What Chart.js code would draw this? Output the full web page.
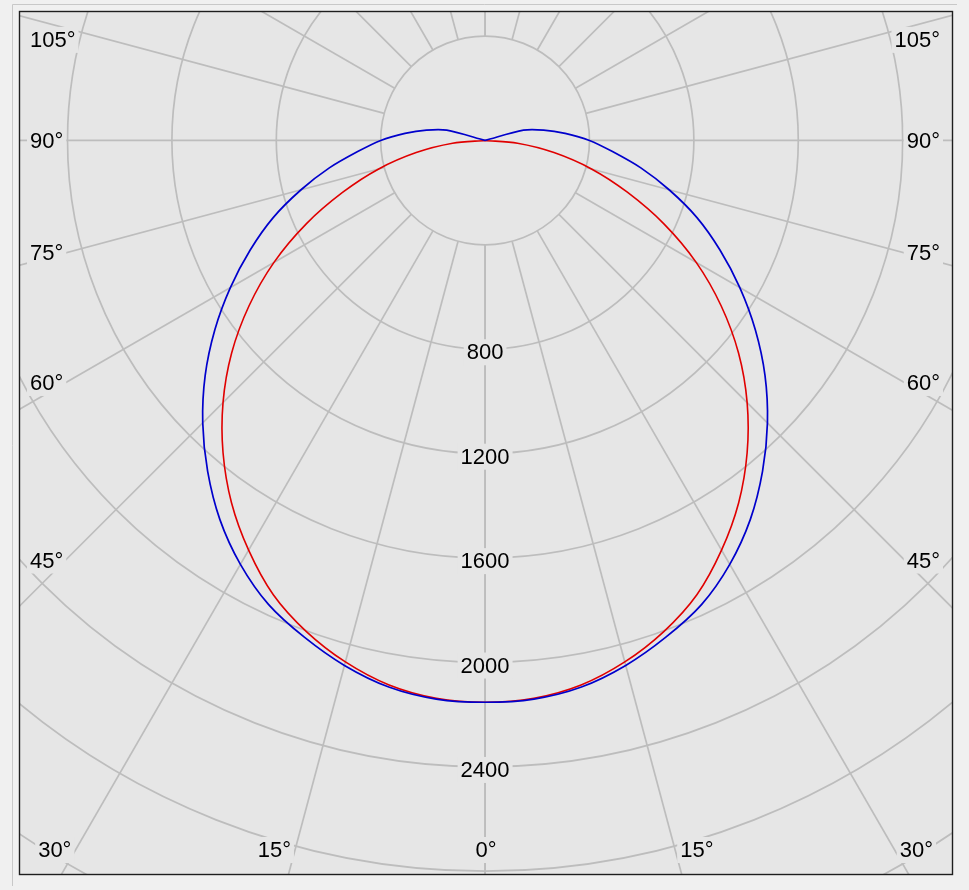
<!DOCTYPE html>
<html>
<head>
<meta charset="utf-8">
<script src="https://cdn.jsdelivr.net/npm/chart.js@4/dist/chart.umd.min.js"></script>
<style>
html,body{margin:0;padding:0;background:#f0f0f0;}
#wrap{position:relative;width:969px;height:890px;}
canvas{display:block;}
</style>
</head>
<body>
<div id="wrap"><canvas id="c" width="969" height="890"></canvas></div>
<script>
// gamma angles (deg, 0 = straight down)
const angles = [0,5,10,15,20,25,30,35,40,45,50,55,60,65,70,75,80,85,90,95,100,105,110,115,120,125,130,135,140,145,150,155,160,165,170,175,180];
// luminous intensity (cd) – blue plane
const blueCd = [2152,2148,2126,2082,2025,1962,1875,1772,1654,1530,1400,1264,1127,993,864,730,606,490,400,308,228,152,0,0,0,0,0,0,0,0,0,0,0,0,0,0,0];
// luminous intensity (cd) – red plane
const redCd = [2152,2145,2118,2068,2002,1920,1812,1694,1562,1420,1268,1104,934,756,580,422,268,125,0,0,0,0,0,0,0,0,0,0,0,0,0,0,0,0,0,0,0];
// grid
const gridCircles = [400,800,1200,1600,2000,2400,2800,3200,3600];
const gridAngles = [0,15,30,45,60,75,90,105,120,135,150,165,180];
const intensityTicks = [800,1200,1600,2000,2400];
const sideAngleLabels = [45,60,75,90,105];
const bottomAngleLabels = [0,15,30];
const X_RANGE = [-1782, 1789];
const Y_RANGE = [-2810, 492];

function toPoints(vals){
  const raw = [];
  for (let i = angles.length-1; i >= 0; i--) raw.push([-angles[i], vals[i]]);
  for (let i = 1; i < angles.length; i++) raw.push([angles[i], vals[i]]);
  const pts = [];
  raw.forEach(([deg, I]) => {
    const a = deg*Math.PI/180;
    const p = {x: I*Math.sin(a), y: -I*Math.cos(a)};
    const last = pts[pts.length-1];
    if (!last || Math.abs(last.x-p.x) > 1e-9 || Math.abs(last.y-p.y) > 1e-9) pts.push(p);
  });
  return pts;
}

const FONT = '22px "Liberation Sans", Arial, sans-serif';
const BG = '#e6e6e6';

function drawLabel(ctx, text, x, y, align){
  ctx.font = FONT;
  const w = ctx.measureText(text).width;
  let left = align === 'left' ? x : align === 'right' ? x - w : x - w/2;
  ctx.fillStyle = BG;
  ctx.fillRect(left - 3, y - 13, w + 6, 26);
  ctx.fillStyle = '#000';
  ctx.textBaseline = 'middle';
  ctx.textAlign = 'left';
  ctx.fillText(text, left, y + 1);
}

const polarGrid = {
  id: 'polarGrid',
  beforeDraw(chart){
    const ctx = chart.ctx;
    ctx.save();
    ctx.fillStyle = '#f0f0f0';
    ctx.fillRect(0,0,chart.width,chart.height);
    ctx.strokeStyle = '#c8c8c8';
    ctx.lineWidth = 1;
    ctx.beginPath();
    ctx.moveTo(12.5, 886); ctx.lineTo(12.5, 4.5); ctx.lineTo(957, 4.5);
    ctx.stroke();
    ctx.restore();
  },
  beforeDatasetsDraw(chart){
    const ctx = chart.ctx, ca = chart.chartArea;
    const xs = chart.scales.x, ys = chart.scales.y;
    const cx = xs.getPixelForValue(0), cy = ys.getPixelForValue(0);
    const k = (xs.getPixelForValue(1000) - cx)/1000;
    const P = (I, deg, side) => {
      const a = deg*Math.PI/180;
      return [xs.getPixelForValue(side*I*Math.sin(a)), ys.getPixelForValue(-I*Math.cos(a))];
    };
    ctx.save();
    ctx.beginPath();
    ctx.rect(ca.left, ca.top, ca.right-ca.left, ca.bottom-ca.top);
    ctx.clip();
    ctx.fillStyle = BG;
    ctx.fillRect(ca.left, ca.top, ca.right-ca.left, ca.bottom-ca.top);
    ctx.strokeStyle = '#bdbdbd';
    ctx.lineWidth = 1.7;
    gridCircles.forEach(r => {
      ctx.beginPath();
      ctx.arc(cx, cy, r*k, 0, Math.PI*2);
      ctx.stroke();
    });
    gridAngles.forEach(deg => {
      [-1, 1].forEach(side => {
        const p0 = P(gridCircles[0], deg, side), p1 = P(6000, deg, side);
        ctx.beginPath();
        ctx.moveTo(p0[0], p0[1]); ctx.lineTo(p1[0], p1[1]);
        ctx.stroke();
      });
    });
    intensityTicks.forEach(I => {
      drawLabel(ctx, String(I), cx, ys.getPixelForValue(-I) + 3, 'center');
    });
    sideAngleLabels.forEach(deg => {
      const a = deg*Math.PI/180;
      const dx = cx - (ca.left + 45);
      let y = cy + dx*Math.cos(a)/Math.sin(a);
      if (deg > 90) y += 12;
      drawLabel(ctx, deg + '°', ca.left + 10, y, 'left');
      drawLabel(ctx, deg + '°', ca.right - 12, y, 'right');
    });
    bottomAngleLabels.forEach(deg => {
      const a = deg*Math.PI/180;
      const y = ca.bottom - 24;
      const dx = (y - cy)*Math.tan(a);
      if (deg === 0) {
        drawLabel(ctx, deg + '°', cx + 1, y, 'center');
      } else {
        drawLabel(ctx, deg + '°', cx - dx - 4, y, 'right');
        drawLabel(ctx, deg + '°', cx + dx + 5, y, 'left');
      }
    });
    ctx.restore();
  },
  afterDraw(chart){
    const ctx = chart.ctx, ca = chart.chartArea;
    ctx.save();
    ctx.strokeStyle = '#1e1e1e';
    ctx.lineWidth = 1.4;
    ctx.strokeRect(ca.left - 0.5, ca.top - 0.5, ca.right - ca.left + 1, ca.bottom - ca.top + 1);
    ctx.restore();
  }
};

new Chart(document.getElementById('c'), {
  type: 'scatter',
  data: {
    datasets: [
      { label: 'C0-C180', data: toPoints(blueCd), showLine: true, borderColor: '#0000cc', borderWidth: 1.7, pointRadius: 0, fill: false, tension: 0.3 },
      { label: 'C90-C270', data: toPoints(redCd), showLine: true, borderColor: '#e00000', borderWidth: 1.6, pointRadius: 0, fill: false, tension: 0.3 }
    ]
  },
  options: {
    responsive: false,
    animation: false,
    devicePixelRatio: 1,
    layout: { padding: { left: 20, top: 12, right: 17, bottom: 16 } },
    scales: {
      x: { type: 'linear', min: X_RANGE[0], max: X_RANGE[1], display: false },
      y: { type: 'linear', min: Y_RANGE[0], max: Y_RANGE[1], display: false }
    },
    plugins: { legend: { display: false }, tooltip: { enabled: false } }
  },
  plugins: [polarGrid]
});
</script>
</body>
</html>
